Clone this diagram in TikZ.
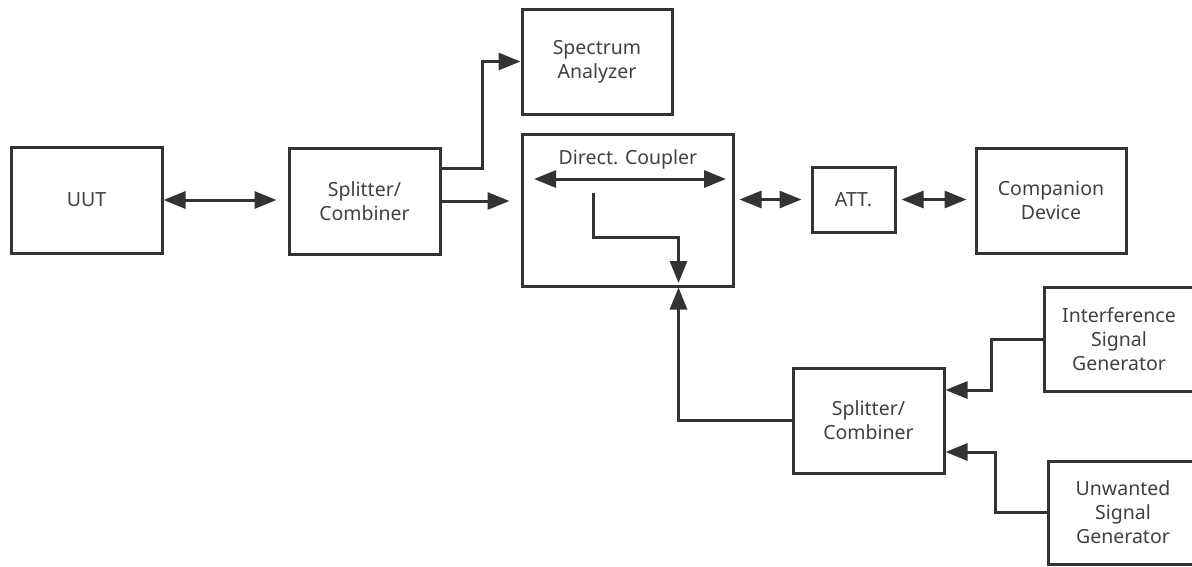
\documentclass[tikz,border=0pt]{standalone}
\usepackage{fontspec}
\setmainfont{Noto Sans}
\usetikzlibrary{arrows.meta,calc}
\definecolor{ln}{HTML}{333333}
\definecolor{tx}{HTML}{404040}
\begin{document}
\begin{tikzpicture}[x=1pt,y=-1pt,
  blk/.style={draw=ln,line width=3pt,inner sep=0pt,align=center,text=tx,
    font=\fontsize{19.5}{24}\selectfont},
  lbl/.style={inner sep=0pt,align=center,text=tx,font=\fontsize{19.5}{24}\selectfont},
  conn/.style={draw=ln,line width=3pt,-{Triangle[length=22pt,width=17pt]}},
  bidir/.style={draw=ln,line width=3pt,{Triangle[length=22pt,width=17pt]}-{Triangle[length=22pt,width=17pt]}}]
\useasboundingbox (0,0) rectangle (1192,566);
\fill[white] (0,0) rectangle (1192,566);

\node[blk,minimum width=151pt,minimum height=106pt] (uut) at (86.5,200) {UUT};
\node[blk,minimum width=151pt,minimum height=106pt] (s1) at (364.5,201) {Splitter/\\Combiner};
\node[blk,minimum width=150pt,minimum height=105pt] (sa) at (597,61.5) {Spectrum\\Analyzer};
\node[blk,minimum width=211pt,minimum height=152pt] (dc) at (627.5,210) {};
\node[lbl] (dct) at (628,159) {Direct. Coupler};
\node[blk,minimum width=83pt,minimum height=65pt] (att) at (853.5,199.5) {ATT.};
\node[blk,minimum width=150pt,minimum height=105pt] (cd) at (1051,200.5) {Companion\\Device};
\node[blk,minimum width=151pt,minimum height=105pt] (s2) at (868.5,420.5) {Splitter/\\Combiner};
\node[blk,minimum width=150pt,minimum height=104pt] (isg) at (1119,339) {Interference\\Signal\\Generator};
\node[blk,minimum width=150pt,minimum height=103pt] (usg) at (1123,512.5) {Unwanted\\Signal\\Generator};

\coordinate (dl) at (534,179);
\coordinate (dr) at (726,179);
\coordinate (ci) at (593,193);
\coordinate (ct) at (678.5,283);

% UUT <-> splitter
\draw[bidir,shorten >=11pt] (uut.east) -- (uut.east -| s1.west);
% splitter -> coupler
\draw[conn,shorten >=11pt] (s1.east) -- (s1.east -| dc.west);
% splitter -> spectrum analyzer
\draw[conn] ([yshift=33pt]s1.east) -- ++(41,0) |- (sa.west);
% coupler internal
\draw[bidir] (dl) -- (dr);
\draw[conn] (ci) -- ++(0,44) -| (ct);
% coupler <-> att
\draw[bidir,shorten <=5pt,shorten >=9pt] (att.west -| dc.east) -- (att.west);
% att <-> companion
\draw[bidir,shorten <=5pt,shorten >=8pt] (att.east) -- (att.east -| cd.west);
% splitter2 -> coupler
\draw[conn] (s2.west) -| ([xshift=51pt]dc.south);
% generators -> splitter2
\draw[conn] (isg.west) -- ++(-51,0) |- ([yshift=30.5pt]s2.east);
\draw[conn] (usg.west) -- ++(-51,0) |- ([yshift=-31.5pt]s2.east);
\end{tikzpicture}
\end{document}
